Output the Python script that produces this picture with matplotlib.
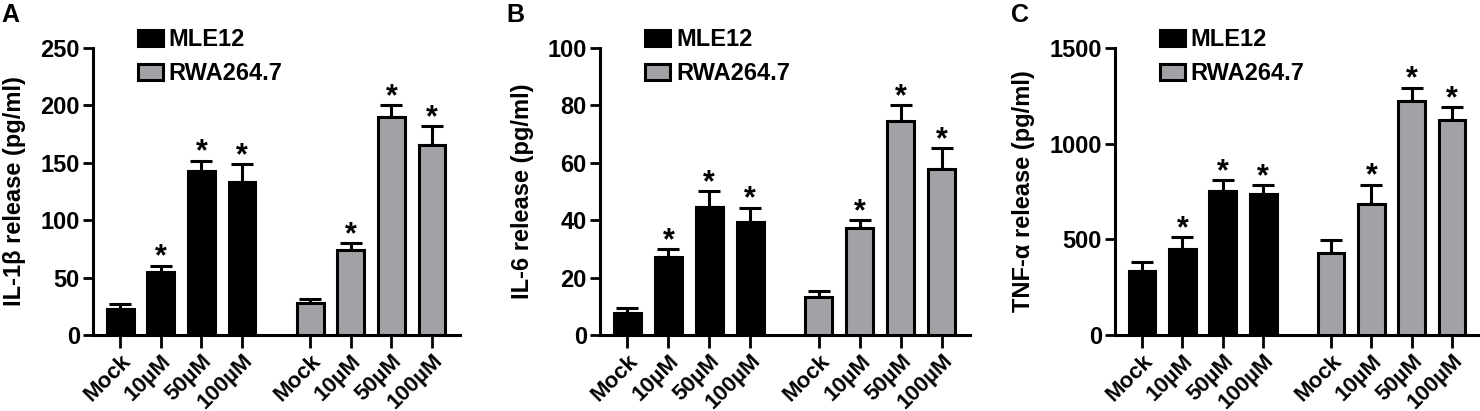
import matplotlib.pyplot as plt
import numpy as np

plt.rcParams['font.family'] = ['Liberation Sans', 'DejaVu Sans']
plt.rcParams['font.weight'] = 'bold'
plt.rcParams['axes.labelweight'] = 'bold'

doses = ['Mock', '10µM', '50µM', '100µM']
cells = ['MLE12', 'RWA264.7']

# values (mean, upper SD)
il1b_mle = [23, 54.5, 143, 133]
il1b_mle_err = [4, 6, 9, 16]
il1b_raw = [28, 74, 189.5, 165.5]
il1b_raw_err = [3, 6, 11, 16.5]

il6_mle = [7.6, 27.1, 44.7, 39.5]
il6_mle_err = [1.8, 2.9, 5.5, 4.9]
il6_raw = [13.3, 37.4, 74.6, 57.9]
il6_raw_err = [2.0, 2.5, 5.4, 7.3]

tnf_mle = [336, 452, 755, 739]
tnf_mle_err = [46, 58, 56, 44]
tnf_raw = [426, 687, 1223, 1125]
tnf_raw_err = [68, 98, 70, 67]

stars_mle = [False, True, True, True]
stars_raw = [False, True, True, True]

panels = [
    ('A', 'IL-1β release (pg/ml)', il1b_mle, il1b_mle_err, il1b_raw, il1b_raw_err, [0, 50, 100, 150, 200, 250]),
    ('B', 'IL-6 release (pg/ml)', il6_mle, il6_mle_err, il6_raw, il6_raw_err, [0, 20, 40, 60, 80, 100]),
    ('C', 'TNF-α release (pg/ml)', tnf_mle, tnf_mle_err, tnf_raw, tnf_raw_err, [0, 500, 1000, 1500]),
]

# axes boxes in pixels: left, right
boxes = [(93, 460), (600, 970), (1115, 1480)]
letter_x = [1, 506, 1011]

W, H = 1480, 411
fig = plt.figure(figsize=(W / 100, H / 100), dpi=100)

gray = '#a2a2a6'
bw = 0.66
x1 = np.arange(4)
x2 = np.arange(4) + 4.68
fs = 17

for (letter, ylab, m1, e1, m2, e2, yt), (l, r), lx in zip(panels, boxes, letter_x):
    ax = fig.add_axes([l / W, (411 - 335) / H, (r - l) / W, 287 / H])
    ax.bar(x1, m1, bw, color='black', edgecolor='black', linewidth=2.2, label=cells[0], zorder=3)
    ax.bar(x2, m2, bw, color=gray, edgecolor='black', linewidth=2.2, label=cells[1], zorder=3)
    for xs, ms, es, st in [(x1, m1, e1, stars_mle), (x2, m2, e2, stars_raw)]:
        ax.errorbar(xs, ms, yerr=[np.zeros(4), es], fmt='none', ecolor='black',
                    elinewidth=2.2, capsize=8, capthick=2.2, zorder=2)
        for xi, mi, ei, s in zip(xs, ms, es, st):
            if s:
                ax.annotate('*', (xi, mi + ei), xytext=(0, -5), textcoords='offset points',
                            ha='center', va='bottom', fontsize=22, fontweight='bold')
    ax.set_xlim(-0.67, 8.37)
    ax.set_ylim(0, yt[-1])
    ax.set_yticks(yt)
    ax.set_xticks(np.r_[x1, x2])
    ax.set_xticklabels(doses * 2, rotation=45, ha='right', rotation_mode='anchor',
                       fontsize=16, fontweight='bold')
    ax.tick_params(axis='y', labelsize=fs, width=2, length=7.5, pad=2)
    ax.tick_params(axis='x', width=2, length=9, pad=2)
    for lab in ax.get_yticklabels():
        lab.set_fontweight('bold')
    ax.set_ylabel(ylab, fontsize=fs, fontweight='bold', labelpad=10)
    for s in ['top', 'right']:
        ax.spines[s].set_visible(False)
    for s in ['left', 'bottom']:
        ax.spines[s].set_linewidth(2.2)
    ax.legend(loc='upper left', bbox_to_anchor=(0.122, 1.07), frameon=False,
              prop={'size': fs, 'weight': 'bold'}, handlelength=1.06, handleheight=0.68,
              labelspacing=0.48, handletextpad=0.25, borderaxespad=0, borderpad=0)
    fig.text(lx / W, 1 - 3 / H, letter, fontsize=18, fontweight='bold', va='top', ha='left')

fig.savefig('out.png', dpi=100)
